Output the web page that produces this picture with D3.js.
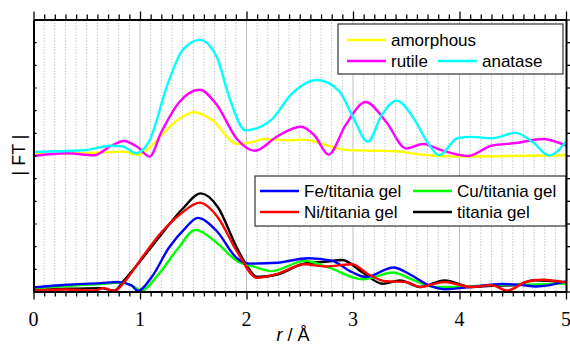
<!DOCTYPE html>
<html>
<head>
<meta charset="utf-8">
<script src="https://cdn.jsdelivr.net/npm/d3@7"></script>
<style>
body { margin: 0; background: #fff; }
svg { display: block; }
.ticklabel { font-family: "Liberation Serif", "Times New Roman", Times, serif; font-size: 20px; }
</style>
</head>
<body>
<svg id="chart"></svg>
<script>
var width = 570,
    height = 354;

// |FT|, as [r, value] pairs (arbitrary units, axis 0..12)
var amorphous = [[0,6.06],[0.63,6.13],[0.85,6.17],[0.98,6.02],[1.14,6.58],[1.33,7.49],[1.51,7.91],
    [1.68,7.56],[1.91,6.51],[2.04,6.58],[2.16,6.73],[2.39,6.67],[2.55,6.70],[2.71,6.51],[2.93,6.25],
    [3.18,6.21],[3.41,6.19],[3.60,6.06],[3.98,5.95],[4.46,5.98],[5,6.01]];
var rutile = [[0,5.98],[0.31,6.10],[0.57,6.01],[0.73,6.43],[0.85,6.64],[0.98,6.36],[1.09,5.95],
    [1.20,7.03],[1.36,8.31],[1.56,8.90],[1.72,8.24],[1.91,6.73],[2.08,6.21],[2.29,6.85],[2.51,7.27],
    [2.64,6.88],[2.77,6.04],[2.93,7.34],[3.12,8.36],[3.31,7.49],[3.50,6.31],[3.66,6.51],[3.82,6.25],
    [4.08,5.98],[4.30,6.43],[4.53,6.55],[4.79,6.73],[5,6.43]];
var anatase = [[0,6.16],[0.47,6.23],[0.73,6.43],[0.84,6.40],[0.96,6.10],[1.08,6.58],[1.27,9.29],
    [1.40,10.65],[1.56,11.10],[1.72,10.35],[1.84,8.54],[1.99,7.11],[2.23,7.56],[2.42,8.70],[2.66,9.33],
    [2.87,8.84],[2.99,7.79],[3.14,6.61],[3.27,7.79],[3.41,8.42],[3.57,7.64],[3.70,6.58],[3.81,6.01],
    [3.98,6.76],[4.11,6.82],[4.30,6.76],[4.53,7.00],[4.69,6.58],[4.84,6.01],[5,6.61]];

var feGel = [[0,0.18],[0.31,0.30],[0.63,0.37],[0.79,0.42],[0.92,0.27],[0.98,0.02],[1.11,0.64],
    [1.27,1.92],[1.43,2.82],[1.54,3.25],[1.72,2.67],[1.91,1.47],[2.03,1.23],[2.29,1.27],[2.58,1.47],
    [2.80,1.36],[2.99,0.86],[3.12,0.64],[3.38,1.06],[3.54,0.74],[3.70,0.30],[3.86,0.10],[4.11,0.20],
    [4.40,0.33],[4.59,0.28],[4.72,0.22],[5,0.45]];
var cuGel = [[0,0.12],[0.31,0.24],[0.63,0.33],[0.82,0.39],[0.95,0.20],[1.01,0.02],[1.17,0.74],
    [1.36,1.92],[1.52,2.72],[1.72,2.15],[1.91,1.35],[2.07,1.10],[2.23,0.90],[2.55,1.35],[2.77,1.06],
    [3.09,0.54],[3.38,0.84],[3.54,0.56],[3.76,0.20],[3.98,0.20],[4.30,0.28],[4.62,0.30],[5,0.35]];
var niGel = [[0,0.06],[0.31,0.09],[0.57,0.04],[0.66,0.15],[0.76,0.02],[0.85,0.40],[1.01,1.44],
    [1.20,2.60],[1.40,3.50],[1.56,3.92],[1.73,3.28],[1.91,1.77],[2.10,0.60],[2.29,0.78],[2.55,1.20],
    [2.74,1.10],[2.99,1.20],[3.15,0.74],[3.31,0.45],[3.50,0.42],[3.63,0.20],[3.86,0.42],[4.11,0.20],
    [4.30,0.28],[4.45,0.04],[4.62,0.42],[4.78,0.52],[5,0.40]];
var titaniaGel = [[0,0.06],[0.31,0.12],[0.63,0.15],[0.76,0.04],[0.85,0.49],[1.01,1.39],[1.20,2.52],
    [1.40,3.65],[1.57,4.33],[1.73,3.73],[1.91,1.92],[2.00,1.17],[2.10,0.64],[2.29,0.75],[2.55,1.24],
    [2.74,1.31],[2.90,1.39],[3.09,0.84],[3.28,0.34],[3.44,0.49],[3.63,0.20],[3.86,0.49],[4.11,0.20],
    [4.30,0.25],[4.53,0.28],[4.69,0.49],[4.88,0.45],[5,0.40]];

var xTicks = [0, 1, 2, 3, 4, 5];

var x = d3.scaleLinear()
    .domain([0, 5])
    .range([33.5, 566]);
var y = d3.scaleLinear()
    .domain([0, 12])
    .range([291.5, 19.5]);

var svg = d3.select("#chart")
    .attr("width", width)
    .attr("height", height);

svg.append("defs").append("clipPath")
    .attr("id", "plot")
  .append("rect")
    .attr("x", x(0)).attr("y", y(12))
    .attr("width", x(5) - x(0)).attr("height", y(0) - y(12));

// vertical grid, dotted every 0.1, solid on whole numbers
var grid = svg.append("g");
d3.range(1, 50).forEach(function(i) {
    var whole = i % 10 == 0;
    grid.append("line")
        .attr("x1", x(i / 10)).attr("x2", x(i / 10))
        .attr("y1", y(12)).attr("y2", y(0))
        .attr("stroke", whole ? "#c0c0c0" : "#c4c4c4")
        .attr("stroke-width", 1)
        .attr("stroke-dasharray", whole ? null : "1.5,1.5");
});

var line = d3.line()
    .x(function(d) { return x(d[0]); })
    .y(function(d) { return y(d[1]); })
    .curve(d3.curveMonotoneX);

var series = [
    {data: amorphous, color: "#ffff00"},
    {data: rutile, color: "#ff00ff"},
    {data: anatase, color: "#00ffff"},
    {data: titaniaGel, color: "#000000"},
    {data: cuGel, color: "#00ff00"},
    {data: feGel, color: "#0000ff"},
    {data: niGel, color: "#ff0000"}
];

svg.append("g")
    .attr("clip-path", "url(#plot)")
    .selectAll("path")
    .data(series)
    .enter().append("path")
        .attr("d", function(d) { return line(d.data); })
        .attr("fill", "none")
        .attr("stroke", function(d) { return d.color; })
        .attr("stroke-width", 2.4)
        .attr("stroke-linejoin", "round");

// legends
function legend(box, items) {
    var g = svg.append("g");
    g.append("rect")
        .attr("x", box[0]).attr("y", box[1])
        .attr("width", box[2]).attr("height", box[3])
        .attr("fill", "#fff")
        .attr("stroke", "#333")
        .attr("stroke-width", 1.2);
    items.forEach(function(it) {
        g.append("line")
            .attr("x1", it.x).attr("x2", it.x + 39)
            .attr("y1", it.y).attr("y2", it.y)
            .attr("stroke", it.color)
            .attr("stroke-width", 2.6);
        g.append("text")
            .attr("x", it.x + 44).attr("y", it.y + 6)
            .style("font-family", "'Liberation Sans', Arial, sans-serif")
            .style("font-size", "17px")
            .text(it.name);
    });
}

legend([338, 24, 225, 50], [
    {name: "amorphous", color: "#ffff00", x: 347, y: 40},
    {name: "rutile", color: "#ff00ff", x: 347, y: 61},
    {name: "anatase", color: "#00ffff", x: 438, y: 61}
]);
legend([255, 176, 311, 50], [
    {name: "Fe/titania gel", color: "#0000ff", x: 260, y: 191},
    {name: "Cu/titania gel", color: "#00ff00", x: 413, y: 191},
    {name: "Ni/titania gel", color: "#ff0000", x: 260, y: 212},
    {name: "titania gel", color: "#000000", x: 413, y: 212}
]);

// axes
var minor = d3.range(0, 51).filter(function(i) { return i % 10 != 0; }).map(function(i) { return i / 10; });

function styleAxis(g) {
    g.select(".domain").attr("stroke-width", 2);
    g.selectAll(".tick line").attr("stroke-width", 1.3);
}

svg.append("g")
    .attr("transform", "translate(0," + y(0) + ")")
    .call(d3.axisBottom(x).tickValues(minor).tickSize(5).tickSizeOuter(0).tickFormat(""))
    .call(styleAxis);
svg.append("g")
    .attr("transform", "translate(0," + y(0) + ")")
    .call(d3.axisBottom(x).tickValues(xTicks).tickSize(8).tickSizeOuter(0).tickFormat(""))
    .call(styleAxis);

// tick labels drawn as plain text so the serif face is not overridden by the axis group
svg.append("g")
    .selectAll("text")
    .data(xTicks)
    .enter().append("text")
        .attr("class", "ticklabel")
        .attr("x", function(d) { return x(d); })
        .attr("y", y(0) + 34)
        .attr("text-anchor", "middle")
        .text(function(d) { return d; });

svg.append("g")
    .attr("transform", "translate(0," + y(12) + ")")
    .call(d3.axisTop(x).tickValues(minor).tickSize(5).tickSizeOuter(0).tickFormat(""))
    .call(styleAxis);
svg.append("g")
    .attr("transform", "translate(0," + y(12) + ")")
    .call(d3.axisTop(x).tickValues(xTicks).tickSize(8).tickSizeOuter(0).tickFormat(""))
    .call(styleAxis);

svg.append("g")
    .attr("transform", "translate(" + x(0) + ",0)")
    .call(d3.axisLeft(y).ticks(12).tickSize(-3).tickSizeOuter(0).tickFormat(""))
    .call(styleAxis);
svg.append("g")
    .attr("transform", "translate(" + x(5) + ",0)")
    .call(d3.axisRight(y).ticks(12).tickSize(4).tickSizeOuter(0).tickFormat(""))
    .call(styleAxis);

// axis titles
var xTitle = svg.append("text")
    .attr("x", 293).attr("y", 341)
    .attr("text-anchor", "middle")
    .style("font-family", "'Liberation Sans', Arial, sans-serif")
    .style("font-size", "18px");
xTitle.append("tspan").style("font-style", "italic").text("r");
xTitle.append("tspan").text(" / Å");

svg.append("text")
    .attr("transform", "translate(25,155) rotate(-90)")
    .attr("text-anchor", "middle")
    .style("font-family", "'Liberation Sans', Arial, sans-serif")
    .style("font-size", "18px")
    .text("| FT |");
</script>
</body>
</html>
